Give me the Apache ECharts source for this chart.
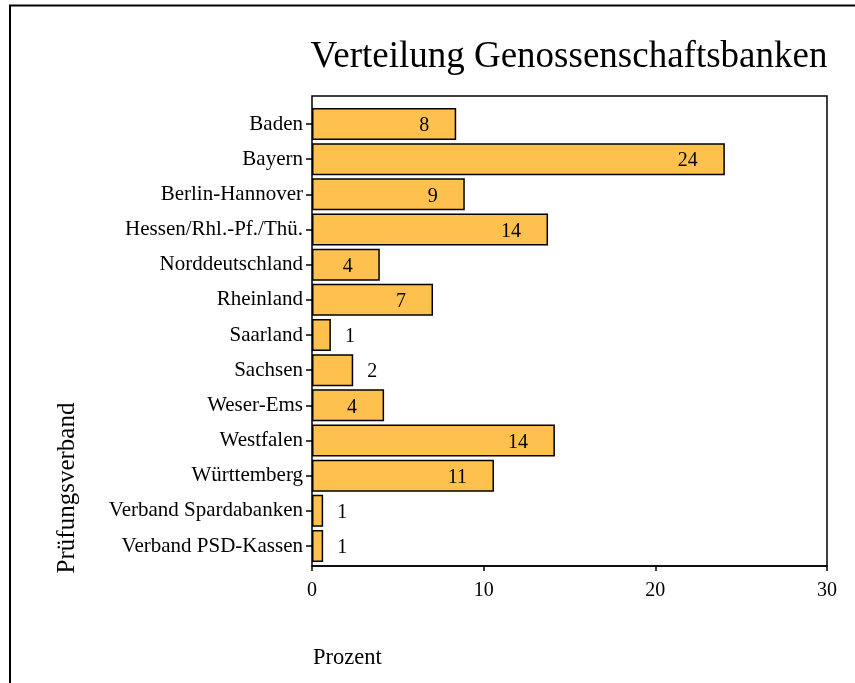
<!DOCTYPE html>
<html>
<head>
<meta charset="utf-8">
<script src="https://cdn.jsdelivr.net/npm/echarts@6/dist/echarts.min.js"></script>
<style>
html,body{margin:0;padding:0;background:#fff;}
#chart{width:855px;height:683px;}
</style>
</head>
<body>
<div id="chart"></div>
<script>
var categories = ['Baden','Bayern','Berlin-Hannover','Hessen/Rhl.-Pf./Thü.','Norddeutschland','Rheinland','Saarland','Sachsen','Weser-Ems','Westfalen','Württemberg','Verband Spardabanken','Verband PSD-Kassen'];
var percent = [8.4, 24.05, 8.9, 13.75, 3.95, 7.05, 1.1, 2.4, 4.2, 14.15, 10.6, 0.65, 0.65];
var xTicks = [0, 10, 20, 30];

var FONT = 'Liberation Serif';
var chart = echarts.init(document.getElementById('chart'), null, {renderer:'canvas'});

var seriesData = percent.map(function (v) {
  var inside = v >= 3;
  return {
    value: v,
    label: {
      position: inside ? 'insideRight' : 'right',
      distance: inside ? 27 : 14,
      offset: [0, 2]
    }
  };
});

var option = {
  backgroundColor: '#fff',
  animation: false,
  graphic: [
    {type:'rect', shape:{x:10, y:5.5, width:900, height:720}, style:{fill:'none', stroke:'#000', lineWidth:2}, silent:true, z:100},
    {type:'text', x:569, y:57, style:{text:'Verteilung Genossenschaftsbanken', font:'37px "Liberation Serif"', fill:'#000', textAlign:'center', textVerticalAlign:'middle'}},
    {type:'text', x:313, y:658, style:{text:'Prozent', font:'22.5px "Liberation Serif"', fill:'#000', textAlign:'left', textVerticalAlign:'middle'}},
    {type:'text', x:67, y:488, rotation:Math.PI/2, style:{text:'Prüfungsverband', font:'25px "Liberation Serif"', fill:'#000', textAlign:'center', textVerticalAlign:'middle'}}
  ],
  grid: [
    {left:312, right:28, top:96, bottom:117, show:true, borderColor:'#000', borderWidth:1.5, backgroundColor:'transparent'},
    {left:312, right:28, top:106.4, height:457.2}
  ],
  xAxis: [
    {gridIndex:0, type:'value', min:xTicks[0], max:xTicks[xTicks.length-1], interval:10,
     axisLine:{show:true, lineStyle:{color:'#000', width:1.5}},
     axisTick:{show:true, length:5, lineStyle:{color:'#000', width:1.5}},
     axisLabel:{color:'#000', fontFamily:FONT, fontSize:20, margin:15},
     splitLine:{show:false}},
    {gridIndex:1, type:'value', min:xTicks[0], max:xTicks[xTicks.length-1], show:false, splitLine:{show:false}}
  ],
  yAxis: [
    {gridIndex:0, type:'value', show:false, splitLine:{show:false}},
    {gridIndex:1, type:'category', data:categories, inverse:true,
     axisLine:{show:false},
     axisTick:{show:true, alignWithLabel:true, length:6, lineStyle:{color:'#000', width:1.5}},
     axisLabel:{color:'#000', fontFamily:FONT, fontSize:21, margin:9},
     splitLine:{show:false}}
  ],
  series: [{
    type:'bar',
    xAxisIndex:1, yAxisIndex:1,
    data: seriesData,
    barCategoryGap:'9%',
    itemStyle:{color:'#FFC14E', borderColor:'#000', borderWidth:1.5},
    label:{show:true, color:'#000', fontFamily:FONT, fontSize:20,
      formatter:function(p){ return String(Math.round(p.value)); }},
    z:5
  }]
};
chart.setOption(option);
</script>
</body>
</html>
